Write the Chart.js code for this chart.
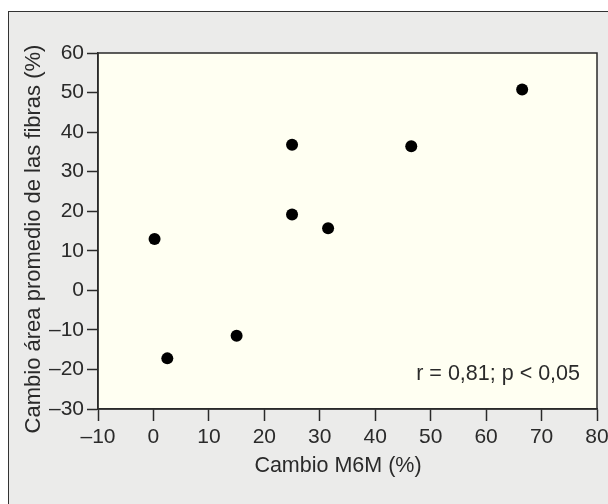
<!DOCTYPE html>
<html>
<head>
<meta charset="utf-8">
<script src="https://cdn.jsdelivr.net/npm/chart.js@4.4.1/dist/chart.umd.min.js"></script>
<style>
  html, body { margin: 0; padding: 0; background: #fff; }
  #frame { position: absolute; left: 8px; top: 11px; width: 640px; height: 540px;
           background: #ebebea; border: 1.5px solid #333; box-sizing: border-box; }
  #wrap { position: absolute; left: 0; top: 0; width: 608px; height: 504px; overflow: hidden; }
</style>
</head>
<body>
<div id="frame"></div>
<div id="wrap"><canvas id="chart" width="620" height="504"></canvas></div>
<script>
// values
const m6mChange = [0.2, 2.5, 15, 25, 25, 31.5, 46.5, 66.5];
const fiberAreaChange = [13, -17.2, -11.5, 36.8, 19.2, 15.7, 36.4, 50.8];
const xTickValues = [-10, 0, 10, 20, 30, 40, 50, 60, 70, 80];
const yTickValues = [-30, -20, -10, 0, 10, 20, 30, 40, 50, 60];
const xTitle = 'Cambio M6M (%)';
const yTitle = 'Cambio área promedio de las fibras (%)';
const statsNote = 'r = 0,81; p < 0,05';

const inkColor = '#2a2a2a';
const fontFamily = '"Liberation Sans", Arial, Helvetica, sans-serif';

function dashMinus(v) {
  return v < 0 ? '\u2013' + Math.abs(v) : String(v);
}

// plot area fill + box, axis titles and the r/p note
const plotBox = {
  id: 'plotBox',
  beforeDraw(chart) {
    const { ctx, chartArea: a } = chart;
    ctx.save();
    ctx.fillStyle = '#fffff2';
    ctx.fillRect(a.left, a.top, a.right - a.left, a.bottom - a.top);
    ctx.restore();
  },
  afterDraw(chart) {
    const { ctx, chartArea: a } = chart;
    ctx.save();
    ctx.strokeStyle = inkColor;
    ctx.lineWidth = 1.5;
    ctx.strokeRect(a.left, a.top, a.right - a.left, a.bottom - a.top);
    ctx.fillStyle = inkColor;
    ctx.textBaseline = 'middle';

    ctx.font = '21.5px ' + fontFamily;
    ctx.textAlign = 'right';
    ctx.fillText(statsNote, a.right - 17, a.bottom - 35);

    // x title sits a little left of the plot centre in the original
    ctx.textAlign = 'center';
    ctx.fillText(xTitle, a.left + 240, a.bottom + 57);

    // rotated y title
    ctx.font = '22px ' + fontFamily;
    ctx.translate(a.left - 64, a.top + 186);
    ctx.rotate(-Math.PI / 2);
    ctx.fillText(yTitle, 0, 0);
    ctx.restore();
  }
};

const points = m6mChange.map((x, i) => ({ x: x, y: fiberAreaChange[i] }));

new Chart(document.getElementById('chart').getContext('2d'), {
  type: 'scatter',
  data: {
    datasets: [{
      data: points,
      backgroundColor: '#000',
      borderWidth: 0,
      pointRadius: 6,
      pointHoverRadius: 6
    }]
  },
  options: {
    responsive: false,
    animation: false,
    layout: { padding: { left: 0, right: 23, top: 53, bottom: 0 } },
    plugins: {
      legend: { display: false },
      tooltip: { enabled: false }
    },
    scales: {
      x: {
        type: 'linear',
        min: -10,
        max: 80,
        afterBuildTicks: s => { s.ticks = xTickValues.map(v => ({ value: v })); },
        afterFit: s => { s.height = 95; },
        grid: { drawOnChartArea: false, drawTicks: true, tickLength: 12, tickColor: inkColor, tickWidth: 1.5 },
        border: { display: true, color: inkColor, width: 1.5 },
        ticks: {
          color: inkColor,
          padding: 4,
          maxRotation: 0,
          autoSkip: false,
          font: { family: fontFamily, size: 21 },
          callback: v => dashMinus(v)
        },
        title: { display: false }
      },
      y: {
        type: 'linear',
        min: -30,
        max: 60,
        afterBuildTicks: s => { s.ticks = yTickValues.map(v => ({ value: v })); },
        afterFit: s => { s.width = 98; },
        grid: { drawOnChartArea: false, drawTicks: true, tickLength: 11, tickColor: inkColor, tickWidth: 1.5 },
        border: { display: true, color: inkColor, width: 1.5 },
        ticks: {
          color: inkColor,
          padding: 3,
          autoSkip: false,
          font: { family: fontFamily, size: 21 },
          callback: v => dashMinus(v)
        },
        title: { display: false }
      }
    }
  },
  plugins: [plotBox]
});
</script>
</body>
</html>
